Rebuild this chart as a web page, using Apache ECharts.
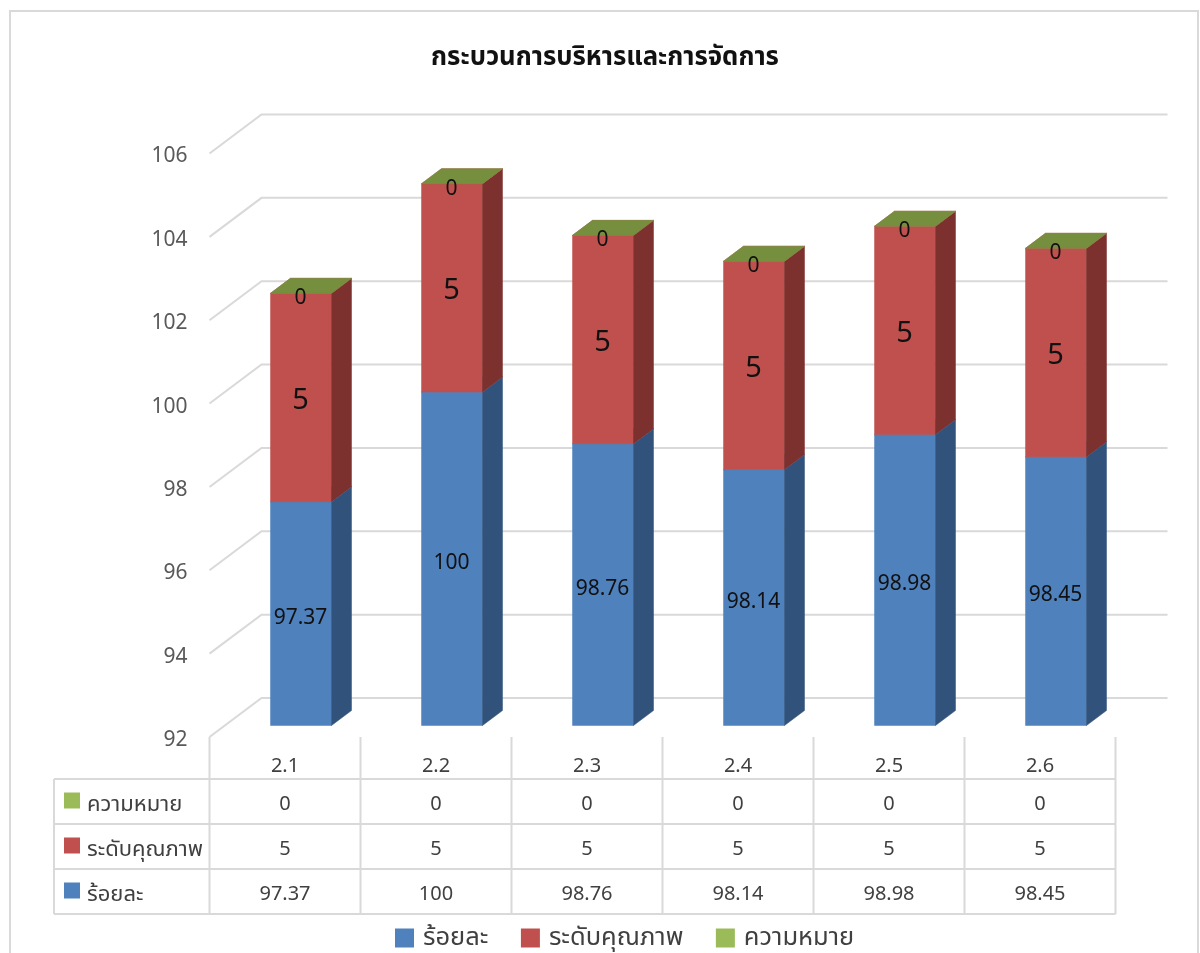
<!DOCTYPE html>
<html><head><meta charset="utf-8">
<style>html,body{margin:0;padding:0;background:#fff;overflow:hidden}#c{width:1200px;height:953px}</style>
<script src="https://cdn.jsdelivr.net/npm/echarts@6/dist/echarts.min.js"></script>
</head><body><div id="c"></div>
<script>
const categories = ['2.1','2.2','2.3','2.4','2.5','2.6'];
const percent = [97.37,100,98.76,98.14,98.98,98.45];
const quality = [5,5,5,5,5,5];
const meaning = [0,0,0,0,0,0];
const yTicks = [92,94,96,98,100,102,104,106];
const names = ['ร้อยละ','ระดับคุณภาพ','ความหมาย'];
const title = 'กระบวนการบริหารและการจัดการ';

const FONT = '"Noto Sans","Noto Sans Thai","Open Sans","DejaVu Sans",sans-serif';
const GRID = '#D9D9D9', TXT = '#404040';
const wall = {dx:52, dy:-39}, bar = {dx:15.5, dy:-11.5, w:61, ddx:20, ddy:-15};
const palette = [
  {front:'#4F81BD', side:'#31527B', top:'#4F81BD'},
  {front:'#C0504D', side:'#7D312F', top:'#C0504D'},
  {front:'#9BBB59', side:'#64793A', top:'#768F3F'}
];
const seriesVals = [percent, quality, meaning];
const labelSize = [21, 29, 21];

function poly(pts, fill){ return {type:'polygon', shape:{points:pts}, style:{fill:fill, stroke:fill, lineWidth:0.5}}; }

function barSeries(k){
  return {
    type:'custom', name:names[k], coordinateSystem:'cartesian2d', z:5+k, clip:false,
    itemStyle:{color:palette[k].front},
    data: categories.map((c,i)=>[i, seriesVals[k][i]]),
    renderItem(params, api){
      const i = api.value(0);
      let base = 0; for(let j=0;j<k;j++) base += seriesVals[j][i];
      const v0 = base===0 ? 92 : base, v1 = base + api.value(1);
      const p0 = api.coord([i, v0]), p1 = api.coord([i, v1]);
      const L = p0[0]+bar.dx-bar.w/2+0.5, R = L+bar.w, B = p0[1]+bar.dy, T = p1[1]+bar.dy;
      const d = bar.ddx, e = bar.ddy, c = palette[k];
      const children = [];
      if (B-T > 0.5) {
        children.push(poly([[L,T],[R,T],[R,B],[L,B]], c.front));
        children.push(poly([[R,T],[R+d,T+e],[R+d,B+e],[R,B]], c.side));
      }
      children.push(poly([[L,T],[L+d,T+e],[R+d,T+e],[R,T]], c.top));
      const yOff = k===2 ? 5 : (k===0 ? 4 : 3);
      children.push({type:'text', z2:50, style:{text:String(api.value(1)), x:(L+R)/2-0.5, y:(T+B)/2+yOff,
        align:'center', verticalAlign:'middle', fill:'#111', font:labelSize[k]+'px '+FONT}});
      return {type:'group', children};
    }
  };
}

const wallSeries = {
  type:'custom', name:'wall', silent:true, z:1, clip:false,
  data: yTicks.map(v=>[0,v]),
  renderItem(params, api){
    const a = api.coord([0, api.value(1)]);
    const x0 = params.coordSys.x, x1 = x0+params.coordSys.width;
    return {type:'polyline', shape:{points:[[x0,a[1]],[x0+wall.dx,a[1]+wall.dy],[x1+wall.dx,a[1]+wall.dy]]},
      style:{stroke:GRID, lineWidth:2, fill:null}};
  }
};

const rows = [meaning, quality, percent];
const rowTop = 779, rowH = 45;
const tableSeries = {
  type:'custom', name:'table', silent:true, z:2, clip:false,
  data: categories.map((c,i)=>[i,92]),
  renderItem(params, api){
    const i = api.value(0), p = api.coord([i,92]), w = params.coordSys.width/categories.length;
    const ch = [];
    const right = p[0]+w/2;
    ch.push({type:'line', shape:{x1:right,y1:p[1],x2:right,y2:rowTop+rowH*3}, style:{stroke:GRID,lineWidth:2}});
    rows.forEach((r,j)=>ch.push({type:'text', style:{text:String(r[i]), x:p[0], y:rowTop+rowH*j+rowH/2+3,
      align:'center', verticalAlign:'middle', fill:TXT, font:'20px '+FONT}}));
    return {type:'group', children:ch};
  }
};

const left=54, splitX=209.5, tableR=1115.5;
const g = [
  {type:'rect', shape:{x:10,y:11,width:1188,height:1000}, style:{fill:'none',stroke:GRID,lineWidth:2}, silent:true},
  {type:'line', shape:{x1:splitX,y1:737,x2:splitX,y2:rowTop+rowH*3}, style:{stroke:GRID,lineWidth:2}},
  {type:'line', shape:{x1:left,y1:rowTop,x2:left,y2:rowTop+rowH*3}, style:{stroke:GRID,lineWidth:2}}
];
for(let j=0;j<=3;j++) g.push({type:'line', shape:{x1:left,y1:rowTop+rowH*j,x2:tableR,y2:rowTop+rowH*j}, style:{stroke:GRID,lineWidth:2}});
[2,1,0].forEach((k,j)=>{
  const cy = rowTop+rowH*j+rowH/2;
  g.push({type:'rect', shape:{x:64,y:cy-9,width:16,height:16}, style:{fill:palette[k].front}});
  g.push({type:'text', style:{text:names[k], x:87, y:cy+3, verticalAlign:'middle', fill:TXT, font:'22px '+FONT}});
});

const chart = echarts.init(document.getElementById('c'), null, {renderer:'canvas', width:1200, height:953});
chart.setOption({
  animation:false, backgroundColor:'#fff',
  title:{text:title, left:600, top:40, textAlign:'center', textStyle:{fontFamily:FONT, fontSize:25.7, fontWeight:'bold', color:'#111'}},
  grid:{left:209.5, top:153.5, right:84.5, bottom:216},
  xAxis:{type:'category', data:categories, axisLine:{show:false}, axisTick:{show:false}, splitLine:{show:false},
    axisLabel:{margin:19, color:TXT, fontSize:20, fontFamily:FONT}},
  yAxis:{type:'value', min:92, max:106, interval:2, axisLine:{show:false}, axisTick:{show:false}, splitLine:{show:false},
    axisLabel:{margin:22, color:'#595959', fontSize:21, fontFamily:FONT, verticalAlign:'top', lineHeight:6}},
  legend:{data:names, left:390, top:920, itemWidth:19, itemHeight:19, itemGap:32.5, icon:'rect',
    textStyle:{fontFamily:FONT, fontSize:25.5, color:TXT, padding:[0,0,0,4]}},
  graphic:{elements:g},
  series:[wallSeries, tableSeries, barSeries(0), barSeries(1), barSeries(2)]
});
</script></body></html>
